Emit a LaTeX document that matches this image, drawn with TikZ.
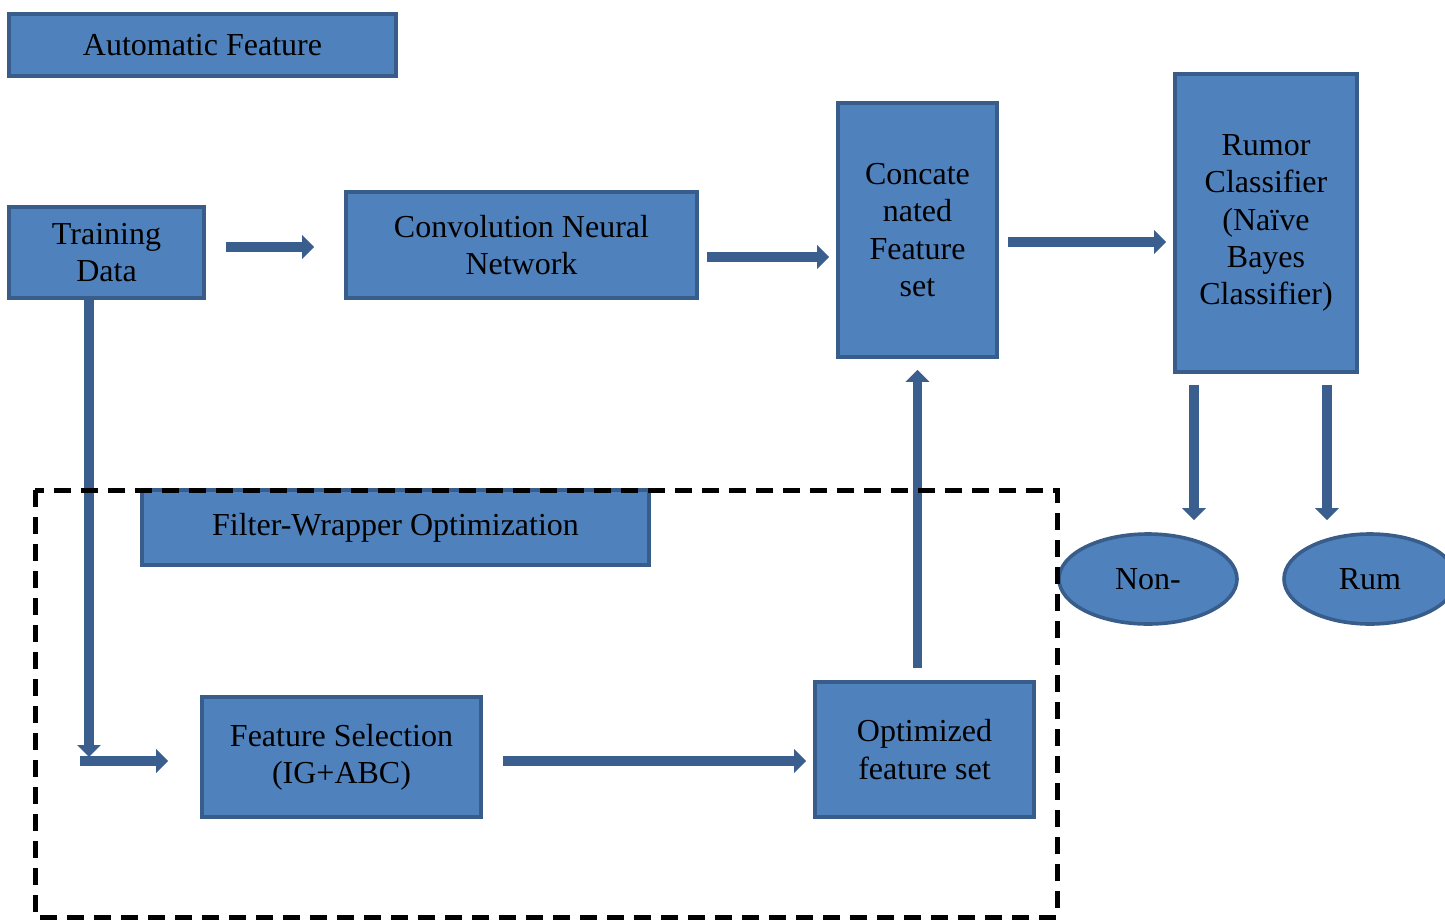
\documentclass[tikz,border=0pt]{standalone}
\usepackage{fontspec}
\setmainfont{Liberation Serif}
\usetikzlibrary{arrows.meta,shapes.geometric}
\definecolor{boxfill}{HTML}{4F81BD}
\definecolor{boxline}{HTML}{385D8A}
\definecolor{arrcol}{HTML}{3A5E8E}
\begin{document}
\begin{tikzpicture}[x=0.5pt,y=-0.5pt,
  blk/.style={draw=boxline,fill=boxfill,line width=1.8pt,inner sep=0pt,align=center,
    font=\fontsize{16}{18.6}\selectfont},
  oval/.style={ellipse,draw=boxline,fill=boxfill,line width=1.8pt,inner sep=0pt,
    font=\fontsize{16}{18.6}\selectfont},
  barrow/.style={draw=arrcol,line width=4.8pt,-{Triangle[width=11.5pt,length=6pt]}},
  dashbox/.style={draw=black,line width=2.5pt,dash pattern=on 8.5pt off 5pt}]
\useasboundingbox (0,0) rectangle (1445,920);
\begin{scope}
\clip (0,0) rectangle (1445,920);
% boxes
\node[blk,minimum width=193.5pt,minimum height=31pt] (af) at (202.5,45) {Automatic Feature};
\node[blk,minimum width=97.5pt,minimum height=45.5pt] (td) at (106.5,252.5) {\raisebox{-1.5pt}{Training}\\\raisebox{-1.5pt}{Data}};
\node[blk,minimum width=175.5pt,minimum height=53pt] (cnn) at (521.5,245) {Convolution Neural\\Network};
\node[blk,minimum width=79.5pt,minimum height=127pt] (cc) at (917.5,230) {Concate\\nated\\Feature\\set};
\node[blk,minimum width=91pt,minimum height=149pt] (rc) at (1266,223) {Rumor\\Classifier\\(Naïve\\Bayes\\Classifier)};
\node[blk,minimum width=253.5pt,minimum height=37.5pt] (fw) at (395.5,527.5) {Filter-Wrapper Optimization};
\node[blk,minimum width=139.5pt,minimum height=60pt] (fs) at (341.5,757) {Feature Selection\\(IG+ABC)};
\node[blk,minimum width=109.5pt,minimum height=67.5pt] (opt) at (924.5,749.5) {Optimized\\feature set};
\node[oval,minimum width=89pt,minimum height=45pt] (non) at (1148,579) {Non-};
\node[oval,minimum width=86pt,minimum height=45pt] (rum) at (1370,579) {Rum};
% connectors
\draw[barrow,shorten <=10pt,shorten >=15pt] ([yshift=2.75pt]td.east) -- ([yshift=2.75pt]td.east -| cnn.west);
\draw[barrow,shorten <=4pt,shorten >=3.5pt] ([yshift=-6pt]cnn.east) -- ([yshift=-6pt]cnn.east -| cc.west);
\draw[barrow,shorten <=4.5pt,shorten >=3.5pt] ([yshift=-6pt]cc.east) -- ([yshift=-6pt]cc.east -| rc.west);
\draw[barrow,shorten <=5.5pt,shorten >=6pt] ([xshift=-36pt]rc.south) -- ([xshift=-36pt]rc.south |- non.north);
\draw[barrow,shorten <=5.5pt,shorten >=6pt] ([xshift=30.5pt]rc.south) -- ([xshift=30.5pt]rc.south |- rum.north);
\coordinate (tdv) at (89,757);
\coordinate (tdh) at (80,761);
\draw[barrow] (td.south -| tdv) -- (tdv);
\draw[barrow,shorten >=16pt] (tdh) -- (tdh -| fs.west);
\draw[barrow,shorten <=10pt,shorten >=3.5pt] ([yshift=-2pt]fs.east) -- ([yshift=-2pt]fs.east -| opt.west);
\draw[barrow,shorten <=6pt,shorten >=5.5pt] (opt.north -| cc.south) -- (cc.south);
% dashed group
\draw[dashbox] (35,490) rectangle (1057,917);
\end{scope}
\end{tikzpicture}
\end{document}
